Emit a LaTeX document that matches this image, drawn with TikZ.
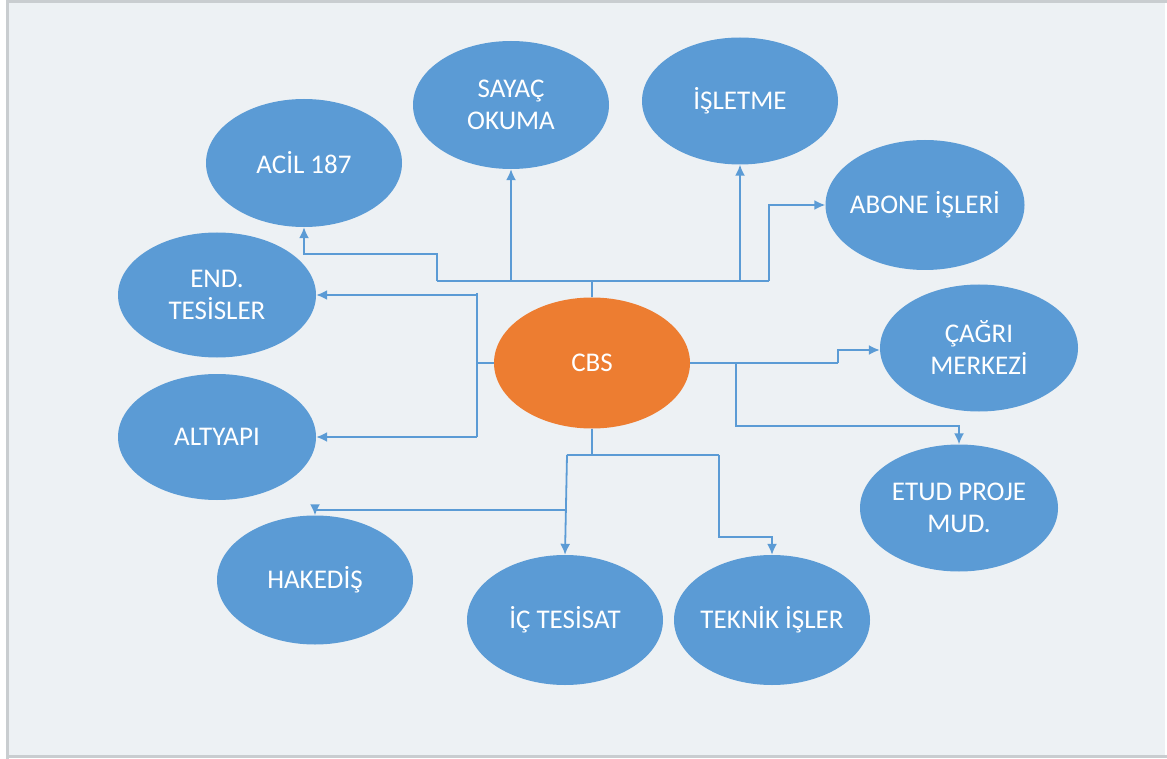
\documentclass[tikz,border=0pt]{standalone}
\usepackage{fontspec}
\setmainfont{Carlito}
\usetikzlibrary{shapes.geometric,arrows.meta}
\definecolor{bg}{HTML}{EDF1F4}
\definecolor{frame}{HTML}{C9CDD0}
\definecolor{nblue}{HTML}{5B9BD5}
\definecolor{norange}{HTML}{ED7D31}
\tikzset{
  ell/.style={ellipse, fill=nblue, draw=none, inner sep=0pt, minimum width=196pt, minimum height=128pt},
  core/.style={ell, fill=norange, minimum height=131pt},
  txt/.style={text=white, align=center, inner sep=0pt, font=\fontsize{27}{32}\selectfont},
  conn/.style={draw=nblue, line width=1.8pt, -{Latex[length=11pt,width=10pt]}},
  trunk/.style={draw=nblue, line width=1.8pt}
}
\begin{document}
\begin{tikzpicture}[x=1pt,y=-1pt]
\useasboundingbox (0,0) rectangle (1167,759);
\fill[white] (0,0) rectangle (1167,759);
\fill[bg] (7,2) rectangle (1165,756);
\draw[frame, line width=3pt] (7,1.5) -- (1167,1.5);
\draw[frame, line width=3pt] (7,0) -- (7,759);
\draw[frame, line width=3pt] (7,756.5) -- (1167,756.5);

\node[ell] (acil) at (304,163) {};
\node[ell] (sayac) at (511,105) {};
\node[ell, minimum height=127pt] (isletme) at (740,101) {};
\node[ell, minimum width=199pt, minimum height=130pt] (abone) at (925,205) {};
\node[ell, minimum width=198pt, minimum height=125pt] (end) at (217,295) {};
\node[ell, minimum width=198pt, minimum height=127pt] (cagri) at (979,348) {};
\node[core] (cbs) at (592,363) {};
\node[ell, minimum width=198pt, minimum height=126pt] (altyapi) at (217,437) {};
\node[ell, minimum width=198pt, minimum height=127pt] (etud) at (959,508) {};
\node[ell, minimum height=129pt] (hakedis) at (315,580) {};
\node[ell, minimum height=130pt] (ic) at (565,620) {};
\node[ell, minimum height=130pt] (teknik) at (772,620) {};

\node[txt] (tacil) at (acil) {ACİL 187};
\node[txt] (tsayac) at (sayac) {SAYAÇ\\OKUMA};
\node[txt] (tisletme) at (isletme) {İŞLETME};
\node[txt] (tabone) at (abone) {ABONE İŞLERİ};
\node[txt] (tend) at (end) {END.\\TESİSLER};
\node[txt] (tcagri) at (cagri) {ÇAĞRI\\MERKEZİ};
\node[txt] (tcbs) at (cbs) {CBS};
\node[txt] (taltyapi) at (altyapi) {ALTYAPI};
\node[txt] (tetud) at (etud) {ETUD PROJE\\MUD.};
\node[txt] (thakedis) at (hakedis) {HAKEDİŞ};
\node[txt] (tic) at (ic) {İÇ TESİSAT};
\node[txt] (tteknik) at (teknik) {TEKNİK İŞLER};

% junction coordinates
\coordinate (jt) at (592,281);
\coordinate (jtl) at (437,281);
\coordinate (jtr) at (769,281);
\coordinate (jl) at (477,363);
\coordinate (jr) at (736,363);
\coordinate (jrr) at (838,363);
\coordinate (jb) at (592,455);
\coordinate (jbl) at (567,455);
\coordinate (jbr) at (719,455);

% top branch
\draw[trunk] (cbs.north) -- (jt);
\draw[trunk] (jtl) -- (jtr);
\draw[conn] (jtl) -- (437,254) -| (acil.south);
\draw[conn] (sayac.south |- jt) -- (sayac.south);
\draw[conn] (isletme.south |- jt) -- (isletme.south);
\draw[conn] (jtr) |- (abone.west);

% left branch
\draw[trunk] (cbs.west) -- (jl);
\draw[trunk] (477,293) -- (477,437);
\draw[conn] (477,295) -- (end.east);
\draw[conn] (477,437) -- (altyapi.east);

% right branch
\draw[trunk] (cbs.east) -- (jrr);
\draw[conn] (jrr) -- (838,350) -- (cagri.west |- 0,350);
\draw[conn] (jr) -- (736,426) -| (etud.north);

% bottom branch
\draw[trunk] (cbs.south) -- (jb);
\draw[trunk] (jbl) -- (jbr);
\draw[conn] (jbl) -- (ic.north);
\draw[conn] (567,510) -| (hakedis.north);
\draw[conn] (jbr) -- (719,537) -| (teknik.north);
\end{tikzpicture}
\end{document}
